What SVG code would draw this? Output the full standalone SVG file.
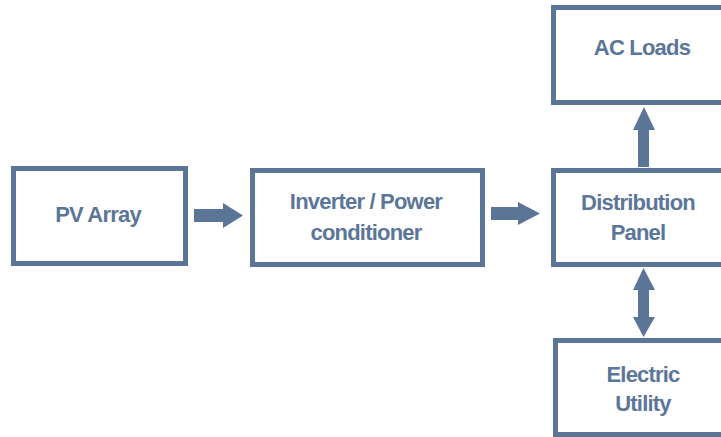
<svg xmlns="http://www.w3.org/2000/svg" width="721" height="437" viewBox="0 0 721 437">
<style>
.box{fill:#ffffff;stroke:#5b7597;stroke-width:5}
.t{font-family:"Liberation Sans",Arial,sans-serif;font-weight:bold;font-size:22px;fill:#5b7699;text-anchor:middle;letter-spacing:-0.8px}
.ar{fill:#5b7597}
</style>
<rect width="721" height="437" fill="#ffffff"/>
<g id="pv-array"><rect class="box" x="13.5" y="168.5" width="172" height="95"/><text class="t" x="98" y="222">PV Array</text></g>
<g id="inverter"><rect class="box" x="252.5" y="170.5" width="230" height="94"/><text class="t" x="366" y="209">Inverter / Power</text><text class="t" x="366" y="240">conditioner</text></g>
<g id="distribution"><rect class="box" x="553.5" y="170.5" width="180" height="94"/><text class="t" x="638" y="210">Distribution</text><text class="t" x="638" y="240">Panel</text></g>
<g id="ac-loads"><rect class="box" x="553.5" y="7.5" width="180" height="95"/><text class="t" x="642" y="55">AC Loads</text></g>
<g id="utility"><rect class="box" x="555.5" y="340.5" width="180" height="94"/><text class="t" x="643" y="382">Electric</text><text class="t" x="643" y="411">Utility</text></g>
<g id="connectors">
<polygon class="ar" points="194,209 223,209 223,203 243,215.5 223,228 223,222 194,222"/>
<polygon class="ar" points="491,207 518,207 518,202 540,213.5 518,225 518,220 491,220"/>
<polygon class="ar" points="638,167 638,130 633,130 644,107 655,130 649,130 649,167"/>
<polygon class="ar" points="643.5,268 655,290 649,290 649,317 655,317 643.5,337 633,317 638,317 638,290 633,290"/>
</g>
</svg>
